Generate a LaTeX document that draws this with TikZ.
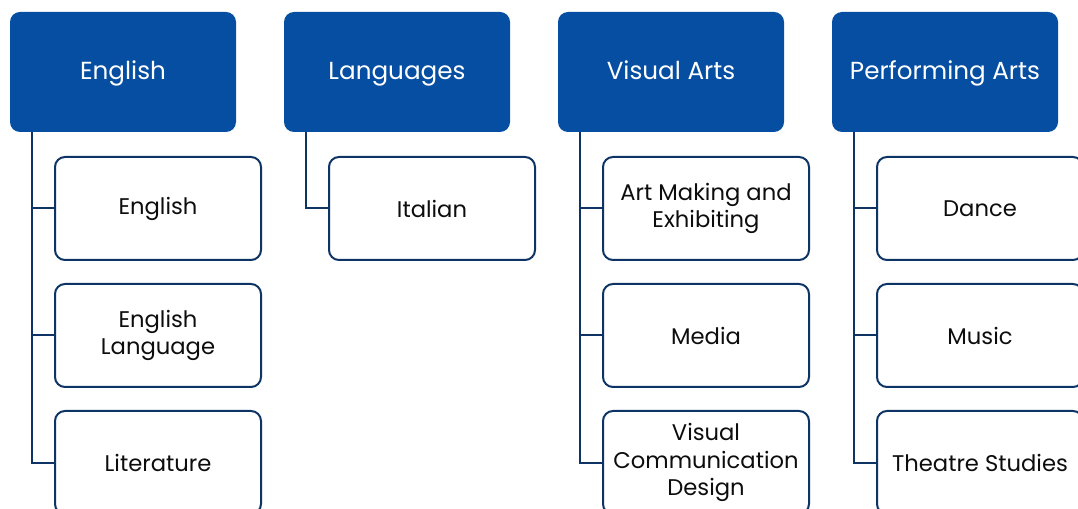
\documentclass[tikz,border=0pt]{standalone}
\usepackage{fontspec}
\setmainfont{Poppins}
\definecolor{headblue}{HTML}{054EA2}
\definecolor{navy}{HTML}{0E3466}
\begin{document}
\begin{tikzpicture}[x=0.75pt, y=-0.75pt,
  head/.style={rounded corners=7.5pt, fill=headblue, text=white, minimum width=169.5pt, minimum height=90pt, font=\fontsize{18.5}{22}\selectfont, text height=1.1em, text depth=0pt, inner sep=2pt},
  item/.style={rounded corners=7.5pt, draw=navy, line width=1.5pt, fill=white, text=black!95, minimum width=154.5pt, minimum height=77.25pt, align=center, font=\fontsize{17}{20.5}\selectfont, inner sep=1pt},
  link/.style={draw=navy, line width=1.5pt}]
\useasboundingbox (0,0) rectangle (1078,509);
\clip (0,0) rectangle (1078,509);
\node[head] (eng) at (123,72){English};
\node[head] (lang) at (397,72){Languages};
\node[head] (vis) at (671,72){Visual Arts};
\node[head] (perf) at (945,72){Performing Arts};
\node[item] (eng1) at (158,208.5){English};
\node[item] (eng2) at (158,335.5){English\\Language};
\node[item] (eng3) at (158,462.5){Literature};
\draw[link] ([xshift=16.5pt]eng.south west) |- (eng1.west);
\draw[link] ([xshift=16.5pt]eng.south west) |- (eng2.west);
\draw[link] ([xshift=16.5pt]eng.south west) |- (eng3.west);
\node[item] (lang1) at (432,208.5){Italian};
\draw[link] ([xshift=16.5pt]lang.south west) |- (lang1.west);
\node[item] (vis1) at (706,208.5){Art Making and\\Exhibiting};
\node[item] (vis2) at (706,335.5){Media};
\node[item] (vis3) at (706,462.5){Visual\\Communication\\Design};
\draw[link] ([xshift=16.5pt]vis.south west) |- (vis1.west);
\draw[link] ([xshift=16.5pt]vis.south west) |- (vis2.west);
\draw[link] ([xshift=16.5pt]vis.south west) |- (vis3.west);
\node[item] (perf1) at (980,208.5){Dance};
\node[item] (perf2) at (980,335.5){Music};
\node[item] (perf3) at (980,462.5){Theatre Studies};
\draw[link] ([xshift=16.5pt]perf.south west) |- (perf1.west);
\draw[link] ([xshift=16.5pt]perf.south west) |- (perf2.west);
\draw[link] ([xshift=16.5pt]perf.south west) |- (perf3.west);
\end{tikzpicture}
\end{document}
